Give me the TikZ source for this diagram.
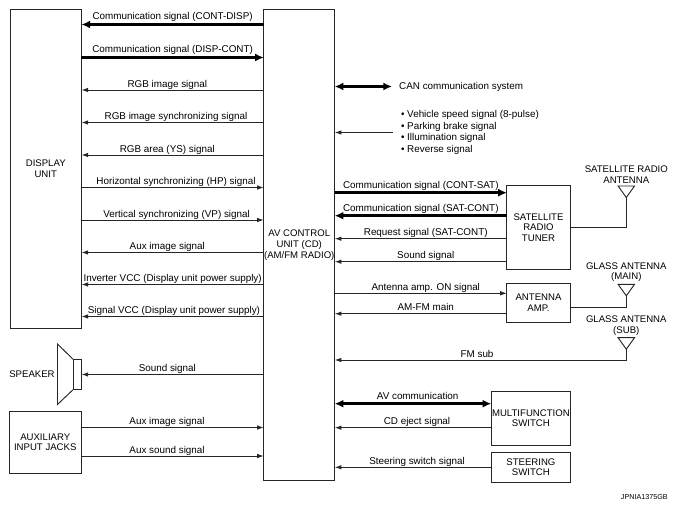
\documentclass[tikz,border=0pt]{standalone}
\usepackage{fontspec}
\setmainfont{Liberation Sans}
\usetikzlibrary{arrows.meta}

\begin{document}
\begin{tikzpicture}[x=0.75pt, y=-0.75pt,
    >={Latex[length=5pt,width=3.4pt]},
    every node/.style={font=\fontsize{7.2}{8}\selectfont},
    box/.style={draw=black!85, text=black, align=center, inner sep=0pt, outer sep=0pt, line width=0.7pt},
    sig/.style={line width=0.7pt, black!85},
    bus/.style={line width=1.9pt, black, >={Latex[length=6.5pt,width=6pt]}},
    lbl/.style={above, inner sep=0.3pt, text=black, font=\fontsize{7.4}{8}\selectfont, text height=5.4pt, text depth=1.5pt},
    antenna/.pic={
        \draw[sig] (-8.2,0) -- (8.2,0) -- (0,11.5) -- cycle;
        \coordinate (-tip) at (0,11.5);
    }]
    \useasboundingbox (0,0) rectangle (679,509);
    %units
    \node (disp) [box, minimum width=53.6pt, minimum height=238.9pt] at (45.75,168.75) {DISPLAY\\UNIT};
    \node (av) [box, minimum width=53.2pt, minimum height=353.4pt] at (299.25,245.25) {AV CONTROL\\UNIT (CD)\\(AM/FM RADIO)};
    \node (aux) [box, minimum width=53.6pt, minimum height=46.1pt] at (45.25,442.25) {AUXILIARY\\INPUT JACKS};
    \node (tuner) [box, minimum width=47.4pt, minimum height=62.3pt] at (538.5,227.5) {SATELLITE\\RADIO\\TUNER};
    \node (amp) [box, minimum width=47.4pt, minimum height=29pt] at (538.5,303) {ANTENNA\\AMP.};
    \node (multi) [box, minimum width=59.4pt, minimum height=40.3pt] at (530.9,418.2) {MULTIFUNCTION\\SWITCH};
    \node (steer) [box, minimum width=59.4pt, minimum height=22.5pt] at (530.9,467.3) {STEERING\\SWITCH};
    %speaker
    \node (spk) [box, minimum width=6.4pt, minimum height=22.9pt] at (77.25,374.5) {};
    \draw[sig] (spk.north west) -- (57.5,344) -- (57.5,404.5) -- (spk.south west);
    \node (spktxt) at (32,374) {SPEAKER};

    %display side
    \draw[bus,<-] (disp.east |- 0,24.5) -- node[lbl, yshift=0.7pt] {Communication signal (CONT-DISP)} (av.west |- 0,24.5);
    \draw[bus,->] (disp.east |- 0,57.5) -- node[lbl, yshift=0.7pt] {Communication signal (DISP-CONT)} (av.west |- 0,57.5);
    \draw[sig,<-] (disp.east |- 0,90) -- node[lbl, xshift=-4pt] {RGB image signal} (av.west |- 0,90);
    \draw[sig,<-] (disp.east |- 0,122.5) -- node[lbl, xshift=2.5pt] {RGB image synchronizing signal} (av.west |- 0,122.5);
    \draw[sig,<-] (disp.east |- 0,155) -- node[lbl, xshift=-4pt] {RGB area (YS) signal} (av.west |- 0,155);
    \draw[sig,->] (disp.east |- 0,187.5) -- node[lbl, xshift=2.5pt] {Horizontal synchronizing (HP) signal} (av.west |- 0,187.5);
    \draw[sig,->] (disp.east |- 0,220) -- node[lbl, xshift=3pt] {Vertical synchronizing (VP) signal} (av.west |- 0,220);
    \draw[sig,<-] (disp.east |- 0,252.5) -- node[lbl, xshift=-4pt] {Aux image signal} (av.west |- 0,252.5);
    \draw[sig,<-] (disp.east |- 0,284.5) -- node[lbl] {Inverter VCC (Display unit power supply)} (av.west |- 0,284.5);
    \draw[sig,<-] (disp.east |- 0,316.5) -- node[lbl, xshift=1pt] {Signal VCC (Display unit power supply)} (av.west |- 0,316.5);
    \draw[sig,<-] (spk.east) -- node[lbl, xshift=-4pt] {Sound signal} (av.west |- spk.east);
    \draw[sig,->] (aux.east |- 0,427.5) -- node[lbl, xshift=-4pt] {Aux image signal} (av.west |- 0,427.5);
    \draw[sig,->] (aux.east |- 0,456) -- node[lbl, xshift=-4pt] {Aux sound signal} (av.west |- 0,456);

    %inputs on the right
    \node (can) [anchor=west, inner xsep=5.2pt, font=\fontsize{7.4}{8}\selectfont] at (392,86.5) {CAN communication system};
    \node (inputs) [anchor=west, align=left, inner xsep=5.6pt, font=\fontsize{7.4}{8.6}\selectfont] at (393.3,132.5) {• Vehicle speed signal (8-pulse)\\• Parking brake signal\\• Illumination signal\\• Reverse signal};
    \draw[bus,<->] (av.east |- can) -- (can.west);
    \draw[sig,<-] (av.east |- inputs) -- (inputs.west);

    %tuner
    \draw[bus,->] (av.east |- 0,192.7) -- node[lbl, yshift=0.7pt] {Communication signal (CONT-SAT)} (tuner.west |- 0,192.7);
    \draw[bus,<-] (av.east |- 0,215.7) -- node[lbl, yshift=0.7pt] {Communication signal (SAT-CONT)} (tuner.west |- 0,215.7);
    \draw[sig,<-] (av.east |- 0,238.7) -- node[lbl, xshift=3.7pt] {Request signal (SAT-CONT)} (tuner.west |- 0,238.7);
    \draw[sig,<-] (av.east |- 0,261.7) -- node[lbl, xshift=3.7pt] {Sound signal} (tuner.west |- 0,261.7);
    %amp
    \draw[sig,->] (av.east |- 0,293.3) -- node[lbl, xshift=3.7pt] {Antenna amp. ON signal} (amp.west |- 0,293.3);
    \draw[sig,<-] (av.east |- 0,313.7) -- node[lbl, xshift=3.7pt] {AM-FM main} (amp.west |- 0,313.7);

    %antennas
    \pic (satant) at (626.3,186) {antenna};
    \pic (mainant) at (626.3,284.3) {antenna};
    \pic (subant) at (626.3,337.7) {antenna};
    \node (sattxt) [align=center, anchor=south, inner sep=1pt] at (626.3,185) {SATELLITE RADIO\\ANTENNA};
    \node (maintxt) [align=center, anchor=south, inner sep=1pt] at (626.3,283.3) {GLASS ANTENNA\\(MAIN)};
    \node (subtxt) [align=center, anchor=south, inner sep=1pt] at (626.3,336.7) {GLASS ANTENNA\\(SUB)};
    \draw[sig] (tuner.east) -| (satant-tip);
    \draw[sig] (amp.east |- 0,307.3) -| (mainant-tip);
    \draw[sig,<-] (av.east |- 0,360) -- node[lbl, xshift=-2.6pt] {FM sub} (subant-tip |- 0,360) -- (subant-tip);

    %switches
    \draw[bus,<->] (av.east |- 0,403.7) -- node[lbl, xshift=3.5pt, yshift=0.7pt] {AV communication} (multi.west |- 0,403.7);
    \draw[sig,<-] (av.east |- 0,427.7) -- node[lbl, xshift=3pt] {CD eject signal} (multi.west |- 0,427.7);
    \draw[sig,<-] (av.east |- steer) -- node[lbl, xshift=3pt] {Steering switch signal} (steer.west);

    \node (code) [anchor=east, inner sep=0pt, font=\fontsize{5.4}{6}\selectfont] at (668,496.7) {JPNIA1375GB};
\end{tikzpicture}
\end{document}
